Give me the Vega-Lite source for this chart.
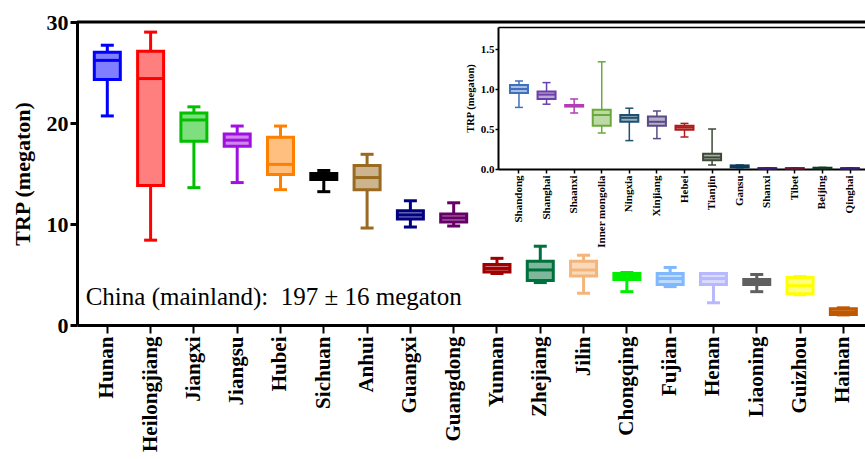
{
  "$schema": "https://vega.github.io/schema/vega-lite/v6.json",
  "width": 788,
  "height": 303,
  "autosize": {"type": "none"},
  "padding": {"left": 77, "top": 22, "right": 0, "bottom": 134},
  "background": "white",
  "config": {"view": {"stroke": null}, "font": "Liberation Serif", "axis": {"labelFont": "Liberation Serif", "titleFont": "Liberation Serif", "domainColor": "black", "tickColor": "black", "labelColor": "black", "titleColor": "black"}},
  "datasets": {
    "main": [
      {"province": "Hunan", "lower": 20.7, "q1": 24.3, "median": 26.2, "q3": 27.0, "upper": 27.7},
      {"province": "Heilongjiang", "lower": 8.4, "q1": 13.8, "median": 24.4, "q3": 27.1, "upper": 29.0},
      {"province": "Jiangxi", "lower": 13.6, "q1": 18.2, "median": 20.3, "q3": 21.0, "upper": 21.6},
      {"province": "Jiangsu", "lower": 14.1, "q1": 17.7, "median": 18.3, "q3": 18.9, "upper": 19.7},
      {"province": "Hubei", "lower": 13.4, "q1": 14.9, "median": 15.9, "q3": 18.6, "upper": 19.7},
      {"province": "Sichuan", "lower": 13.2, "q1": 14.4, "median": 14.7, "q3": 15.0, "upper": 15.3},
      {"province": "Anhui", "lower": 9.6, "q1": 13.4, "median": 14.6, "q3": 15.8, "upper": 16.9},
      {"province": "Guangxi", "lower": 9.7, "q1": 10.5, "median": 10.9, "q3": 11.3, "upper": 12.3},
      {"province": "Guangdong", "lower": 9.8, "q1": 10.2, "median": 10.6, "q3": 11.0, "upper": 12.1},
      {"province": "Yunnan", "lower": 5.1, "q1": 5.25, "median": 5.6, "q3": 6.0, "upper": 6.6},
      {"province": "Zhejiang", "lower": 4.2, "q1": 4.4, "median": 5.45, "q3": 6.3, "upper": 7.8},
      {"province": "Jilin", "lower": 3.15, "q1": 4.85, "median": 5.45, "q3": 6.3, "upper": 6.9},
      {"province": "Chongqing", "lower": 3.3, "q1": 4.5, "median": 4.8, "q3": 5.1, "upper": 5.2},
      {"province": "Fujian", "lower": 3.8, "q1": 4.0, "median": 4.6, "q3": 5.1, "upper": 5.7},
      {"province": "Henan", "lower": 2.2, "q1": 4.0, "median": 4.6, "q3": 5.1, "upper": 5.1},
      {"province": "Liaoning", "lower": 3.3, "q1": 4.0, "median": 4.3, "q3": 4.5, "upper": 5.0},
      {"province": "Guizhou", "lower": 3.0, "q1": 3.1, "median": 3.9, "q3": 4.7, "upper": 4.8},
      {"province": "Hainan", "lower": 1.0, "q1": 1.05, "median": 1.3, "q3": 1.6, "upper": 1.7}
    ],
    "inset": [
      {"region": "Shandong", "lower": 0.77, "q1": 0.95, "median": 1.0, "q3": 1.05, "upper": 1.1},
      {"region": "Shanghai", "lower": 0.81, "q1": 0.875, "median": 0.93, "q3": 0.97, "upper": 1.08},
      {"region": "Shaanxi", "lower": 0.7, "q1": 0.78, "median": 0.79, "q3": 0.8, "upper": 0.875},
      {"region": "Inner mongolia", "lower": 0.45, "q1": 0.54, "median": 0.675, "q3": 0.74, "upper": 1.34},
      {"region": "Ningxia", "lower": 0.355, "q1": 0.59, "median": 0.64, "q3": 0.675, "upper": 0.76},
      {"region": "Xinjiang", "lower": 0.38, "q1": 0.54, "median": 0.59, "q3": 0.655, "upper": 0.725},
      {"region": "Hebei", "lower": 0.4, "q1": 0.49, "median": 0.52, "q3": 0.54, "upper": 0.57},
      {"region": "Tianjin", "lower": 0.05, "q1": 0.11, "median": 0.145, "q3": 0.19, "upper": 0.5},
      {"region": "Gansu", "lower": 0.015, "q1": 0.02, "median": 0.03, "q3": 0.045, "upper": 0.05},
      {"region": "Shanxi", "lower": 0.003, "q1": 0.005, "median": 0.008, "q3": 0.01, "upper": 0.012},
      {"region": "Tibet", "lower": 0.003, "q1": 0.005, "median": 0.007, "q3": 0.01, "upper": 0.012},
      {"region": "Beijing", "lower": 0.005, "q1": 0.008, "median": 0.012, "q3": 0.016, "upper": 0.02},
      {"region": "Qinghai", "lower": 0.003, "q1": 0.005, "median": 0.008, "q3": 0.01, "upper": 0.012}
    ]
  },
  "layer": [
    {
      "layer": [
        {
          "data": {"name": "main"},
          "encoding": {
            "x": {"field": "province", "type": "nominal", "sort": null,
              "scale": {"paddingInner": 0, "paddingOuter": 0.1, "align": 1},
              "axis": {"title": null, "labelAngle": 270, "labelFontSize": 21, "labelFontWeight": "bold", "tickSize": 8, "tickWidth": 2, "domainWidth": 3, "labelPadding": 3, "labelLimit": 300, "grid": false}},
            "color": {"field": "province", "type": "nominal", "legend": null,
              "scale": {"domain": ["Hunan","Heilongjiang","Jiangxi","Jiangsu","Hubei","Sichuan","Anhui","Guangxi","Guangdong","Yunnan","Zhejiang","Jilin","Chongqing","Fujian","Henan","Liaoning","Guizhou","Hainan"],
                "range": ["#0000ff","#ff0000","#00c000","#a010e0","#ff8000","#000000","#9a6a20","#000080","#660066","#a00000","#00703c","#f5b57a","#00ee00","#80b8ff","#b8b8ff","#606060","#ffff00","#c05800"]}}
          },
          "layer": [
            {"mark": {"type": "rule", "strokeWidth": 3},
             "encoding": {"y": {"field": "lower", "type": "quantitative", "title": "TRP (megaton)",
               "scale": {"domain": [0, 30], "nice": false},
               "axis": {"values": [0, 10, 20, 30], "labelFontSize": 22, "labelFontWeight": "bold", "domainWidth": 3, "tickSize": 7, "tickWidth": 3, "labelPadding": 2, "grid": false, "titleFontSize": 22, "titleFontWeight": "bold", "titlePadding": 12}},
               "y2": {"field": "q1"}}},
            {"mark": {"type": "rule", "strokeWidth": 3},
             "encoding": {"y": {"field": "q3", "type": "quantitative", "title": "TRP (megaton)", "scale": {"domain": [0, 30], "nice": false}}, "y2": {"field": "upper"}}},
            {"mark": {"type": "tick", "size": 13, "thickness": 3, "opacity": 1},
             "encoding": {"y": {"field": "lower", "type": "quantitative", "title": "TRP (megaton)", "scale": {"domain": [0, 30], "nice": false}}}},
            {"mark": {"type": "tick", "size": 13, "thickness": 3, "opacity": 1},
             "encoding": {"y": {"field": "upper", "type": "quantitative", "title": "TRP (megaton)", "scale": {"domain": [0, 30], "nice": false}}}},
            {"mark": {"type": "bar", "size": 26, "fillOpacity": 0.5},
             "encoding": {"y": {"field": "q1", "type": "quantitative", "title": "TRP (megaton)", "scale": {"domain": [0, 30], "nice": false}}, "y2": {"field": "q3"}}},
            {"mark": {"type": "bar", "size": 26, "filled": false, "strokeWidth": 3, "opacity": 1},
             "encoding": {"y": {"field": "q1", "type": "quantitative", "title": "TRP (megaton)", "scale": {"domain": [0, 30], "nice": false}}, "y2": {"field": "q3"}}},
            {"mark": {"type": "tick", "size": 26, "thickness": 3, "opacity": 1},
             "encoding": {"y": {"field": "median", "type": "quantitative", "title": "TRP (megaton)", "scale": {"domain": [0, 30], "nice": false}}}}
          ]
        },
        {
          "data": {"values": [{"label": "China (mainland):\u00a0\u00a0197 ± 16 megaton"}]},
          "mark": {"type": "text", "align": "left", "baseline": "alphabetic", "font": "Liberation Serif", "fontSize": 25, "color": "black"},
          "encoding": {
            "x": {"datum": "Hunan", "type": "nominal", "bandPosition": 0},
            "y": {"datum": 2.0, "type": "quantitative", "title": "TRP (megaton)"},
            "text": {"field": "label", "type": "nominal"}
          }
        },
        {
          "data": {"values": [{}]},
          "mark": {"type": "rule", "strokeWidth": 3, "color": "black"},
          "encoding": {"y": {"datum": 30, "type": "quantitative", "title": "TRP (megaton)"}}
        }
      ]
    },
    {
      "data": {"name": "inset"},
      "encoding": {
        "x": {"field": "region", "type": "nominal", "sort": null,
          "scale": {"range": [421, 794], "paddingInner": 0, "paddingOuter": 0.26},
          "axis": {"orient": "bottom", "offset": -156, "title": null, "labelAngle": 270, "labelFontSize": 11, "labelFontWeight": "bold", "tickSize": 4, "tickWidth": 1.5, "domainWidth": 2, "labelPadding": 2, "grid": false}},
        "color": {"field": "region", "type": "nominal", "legend": null,
          "scale": {"domain": ["Shandong","Shanghai","Shaanxi","Inner mongolia","Ningxia","Xinjiang","Hebei","Tianjin","Gansu","Shanxi","Tibet","Beijing","Qinghai"],
            "range": ["#3f6fbf","#6a3fa8","#b43cb4","#6aaa3a","#1f5070","#5a4a88","#b01c1c","#3e4a38","#0c3a5a","#3c1c6e","#6a1438","#143c24","#3c1c7a"]}}
      },
      "layer": [
        {"mark": {"type": "rule", "strokeWidth": 1.5},
         "encoding": {"y": {"field": "lower", "type": "quantitative", "title": "TRP (megaton)",
           "scale": {"domain": [0, 1.775], "nice": false, "range": [147, 5]},
           "axis": {"orient": "left", "offset": -421, "values": [0, 0.5, 1, 1.5, 1.775],
             "labelExpr": "datum.value > 1.7 ? '' : format(datum.value, '.1f')",
             "labelFontSize": 11, "labelFontWeight": "bold", "domainWidth": 2, "tickSize": 3, "tickWidth": 1.5, "labelPadding": 1,
             "tickOpacity": {"condition": {"test": "datum.value > 1.7", "value": 0}, "value": 1},
             "grid": true, "gridColor": "black", "gridWidth": 1.5,
             "gridOpacity": {"condition": {"test": "datum.value > 1.7", "value": 1}, "value": 0},
             "titleFontSize": 10.5, "titleFontWeight": "bold", "titlePadding": 5}},
           "y2": {"field": "q1"}}},
        {"mark": {"type": "rule", "strokeWidth": 1.5},
         "encoding": {"y": {"field": "q3", "type": "quantitative", "title": "TRP (megaton)", "scale": {"domain": [0, 1.775], "nice": false, "range": [147, 5]}}, "y2": {"field": "upper"}}},
        {"mark": {"type": "tick", "size": 8, "thickness": 1.5, "opacity": 1},
         "encoding": {"y": {"field": "lower", "type": "quantitative", "title": "TRP (megaton)", "scale": {"domain": [0, 1.775], "nice": false, "range": [147, 5]}}}},
        {"mark": {"type": "tick", "size": 8, "thickness": 1.5, "opacity": 1},
         "encoding": {"y": {"field": "upper", "type": "quantitative", "title": "TRP (megaton)", "scale": {"domain": [0, 1.775], "nice": false, "range": [147, 5]}}}},
        {"mark": {"type": "bar", "size": 18, "fillOpacity": 0.45},
         "encoding": {"y": {"field": "q1", "type": "quantitative", "title": "TRP (megaton)", "scale": {"domain": [0, 1.775], "nice": false, "range": [147, 5]}}, "y2": {"field": "q3"}}},
        {"mark": {"type": "bar", "size": 18, "filled": false, "strokeWidth": 2, "opacity": 1},
         "encoding": {"y": {"field": "q1", "type": "quantitative", "title": "TRP (megaton)", "scale": {"domain": [0, 1.775], "nice": false, "range": [147, 5]}}, "y2": {"field": "q3"}}},
        {"mark": {"type": "tick", "size": 18, "thickness": 2, "opacity": 1},
         "encoding": {"y": {"field": "median", "type": "quantitative", "title": "TRP (megaton)", "scale": {"domain": [0, 1.775], "nice": false, "range": [147, 5]}}}}
      ]
    }
  ],
  "resolve": {"scale": {"x": "independent", "y": "independent", "color": "independent"}, "axis": {"x": "independent", "y": "independent"}}
}
